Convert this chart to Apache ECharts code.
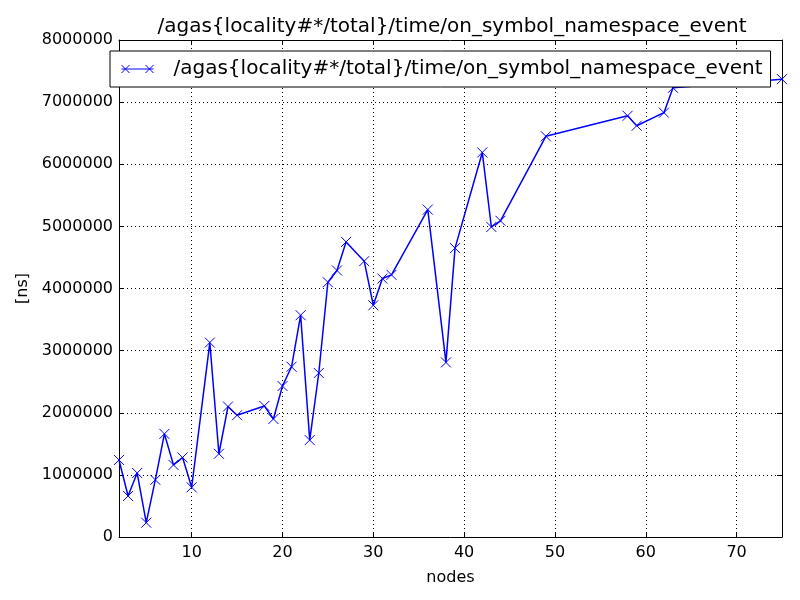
<!DOCTYPE html>
<html>
<head>
<meta charset="utf-8">
<script src="https://cdn.jsdelivr.net/npm/echarts@6/dist/echarts.min.js"></script>
<style>
  html, body { margin: 0; padding: 0; background: #fff; }
  #chart { width: 800px; height: 600px; }
</style>
</head>
<body>
<div id="chart"></div>
<script>
const seriesName = '/agas{locality#*/total}/time/on_symbol_namespace_event'
const nodes = [2, 3, 4, 5, 6, 7, 8, 9, 10, 12, 13, 14, 15, 18, 19, 20, 21, 22, 23, 24,
  25, 26, 27, 29, 30, 31, 32, 36, 38, 39, 42, 43, 44, 49, 58, 59, 62, 63, 75]
const times = [1240000, 660000, 1030000, 230000, 920000, 1660000, 1160000, 1280000, 800000, 3130000,
  1340000, 2100000, 1960000, 2110000, 1900000, 2430000, 2740000, 3570000, 1560000, 2640000,
  4100000, 4290000, 4750000, 4440000, 3730000, 4160000, 4220000, 5270000, 2810000, 4650000,
  6190000, 4990000, 5090000, 6450000, 6780000, 6620000, 6830000, 7230000, 7370000]
const xTicks = [10, 20, 30, 40, 50, 60, 70]

const font = 'DejaVu Sans'
const xMark = 'path://M0,0L10,10M10,0L0,10'

const chart = echarts.init(document.getElementById('chart'))

const gridLine = { show: true, lineStyle: { color: '#000', type: [1, 3], width: 1 } }
const frame = { show: true, onZero: false, lineStyle: { color: '#000', width: 1 } }
const inTick = { show: true, inside: true, length: 5, lineStyle: { color: '#000' } }

chart.setOption({
  animation: false,
  textStyle: { fontFamily: font },
  title: {
    text: seriesName,
    left: 447, top: 12, textAlign: 'center',
    textStyle: { fontFamily: font, fontSize: 20, fontWeight: 'normal', color: '#000' }
  },
  legend: {
    left: 110, top: 51,
    padding: [8, 8, 8, 9],
    backgroundColor: '#fff', borderColor: '#000', borderWidth: 1,
    itemWidth: 36, itemHeight: 8, itemGap: 10,
    icon: 'path://M0,5L40,5M0,0L10,10M10,0L0,10M30,0L40,10M40,0L30,10',
    itemStyle: { color: 'none', borderColor: '#0000ff', borderWidth: 1 },
    textStyle: { fontFamily: font, fontSize: 20, color: '#000', padding: [0, 0, 0, 13] },
    data: [seriesName]
  },
  grid: { left: 119, right: 18, top: 40, bottom: 63 },
  xAxis: [{
    type: 'value', min: 2, max: 75,
    name: 'nodes', nameLocation: 'middle', nameGap: 33,
    nameTextStyle: { fontFamily: font, fontSize: 16, color: '#000' },
    axisLine: frame,
    axisTick: Object.assign({ customValues: xTicks }, inTick),
    axisLabel: { customValues: xTicks, fontFamily: font, fontSize: 16, color: '#000', margin: 8 },
    splitLine: gridLine
  }, {
    type: 'value', min: 2, max: 75, position: 'top',
    axisLine: frame,
    axisTick: Object.assign({ customValues: xTicks }, inTick),
    axisLabel: { show: false },
    splitLine: { show: false }
  }],
  yAxis: [{
    type: 'value', min: 0, max: 8000000, interval: 1000000,
    name: '[ns]', nameLocation: 'middle', nameGap: 88, nameRotate: 90,
    nameTextStyle: { fontFamily: font, fontSize: 16, color: '#000' },
    axisLine: frame,
    axisTick: inTick,
    axisLabel: { fontFamily: font, fontSize: 16, color: '#000', margin: 6, formatter: v => String(v) },
    splitLine: gridLine
  }, {
    type: 'value', min: 0, max: 8000000, interval: 1000000, position: 'right',
    axisLine: frame,
    axisTick: inTick,
    axisLabel: { show: false },
    splitLine: { show: false }
  }],
  series: [{
    name: seriesName,
    type: 'line',
    data: nodes.map((n, i) => [n, times[i]]),
    symbol: xMark, symbolSize: 10,
    showAllSymbol: true,
    clip: false,
    lineStyle: { color: '#0000ff', width: 1.5 },
    itemStyle: { color: 'none', borderColor: '#0000ff', borderWidth: 1 },
    emphasis: { disabled: true }
  }]
})
</script>
</body>
</html>
